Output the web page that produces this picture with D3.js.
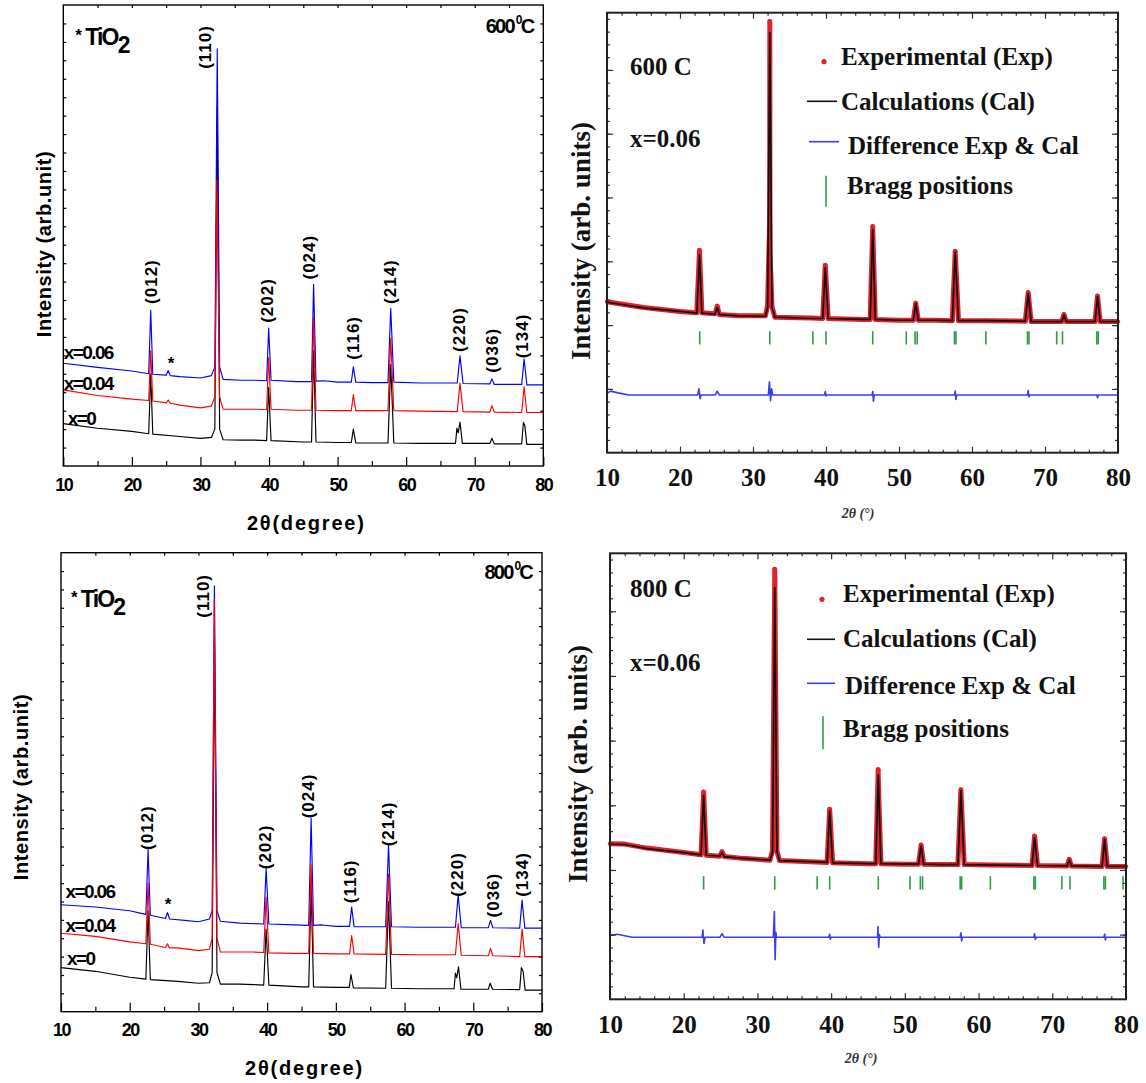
<!DOCTYPE html>
<html><head><meta charset="utf-8">
<script src="https://cdn.jsdelivr.net/npm/d3@7"></script>
<style>body{margin:0;background:#fff}svg{display:block}</style>
</head><body>
<svg id="c" width="1146" height="1083"></svg>
<script>
// ---------------- DATA ----------------
const xTickLabels = [10, 20, 30, 40, 50, 60, 70, 80];
const hklLabels = ["(012)", "(110)", "(202)", "(024)", "(116)", "(214)", "(220)", "(036)", "(134)"];
const seriesNames = ["x=0.06", "x=0.04", "x=0"];
const legendNames = ["Experimental (Exp)", "Calculations (Cal)", "Difference Exp & Cal", "Bragg positions"];

// 600 C, XRD (x=0.06 blue, x=0.04 red, x=0 black); [2theta, intensity (arb.)]
const xrd600_006 = [[10,22.3],[15,21.4],[20,20.6],[22.45,20.0],[22.75,33.8],[23.05,19.9],[25.0,19.7],[25.3,20.7],[25.6,19.6],[27,19.4],[30,19.1],[31.6,19.6],[32.1,21.5],[32.45,90.5],[32.8,21.5],[33.3,18.8],[36,18.6],[38,18.6],[39.65,18.5],[39.95,29.9],[40.3,18.6],[44,18.3],[46.2,18.3],[46.5,39.4],[46.85,18.4],[48,18.5],[50,18.2],[52.0,18.2],[52.3,21.5],[52.65,18.2],[55,18.1],[57.35,18.1],[57.75,34.2],[58.2,18.2],[62,18.0],[67.45,18.0],[67.85,23.9],[68.3,17.9],[72.2,17.8],[72.5,18.9],[72.85,17.7],[76.85,17.7],[77.2,23.2],[77.6,17.6],[80,17.6]];
const xrd600_004 = [[10,16.5],[15,15.3],[20,14.5],[22.45,14.2],[22.75,25.0],[23.05,14.1],[25.0,13.7],[25.3,14.3],[25.6,13.6],[27,13.2],[30,12.6],[31.6,13.0],[32.1,15.0],[32.4,62.0],[32.8,15.0],[33.3,12.3],[38,12.3],[39.65,12.2],[39.95,23.5],[40.3,12.3],[44,12.1],[46.2,12.1],[46.5,32.2],[46.85,12.1],[50,12.0],[52.0,12.0],[52.3,15.5],[52.65,12.0],[57.35,12.0],[57.75,27.7],[58.2,12.0],[62,11.9],[67.45,11.8],[67.85,18.0],[68.3,11.8],[72.2,11.7],[72.5,13.1],[72.85,11.7],[76.85,11.6],[77.2,17.2],[77.6,11.6],[80,11.6]];
const xrd600_000 = [[10,9.2],[15,8.2],[20,7.5],[22.45,7.0],[22.75,20.0],[23.05,6.9],[27,6.4],[30,6.0],[31.6,6.2],[32.1,8.0],[32.45,78.0],[32.8,8.0],[33.3,5.7],[36,5.6],[38,5.6],[39.65,5.5],[39.95,17.0],[40.3,5.5],[45,5.2],[46.2,5.2],[46.5,25.0],[46.85,5.2],[50,5.1],[52.0,5.1],[52.3,8.0],[52.65,5.0],[57.35,5.0],[57.75,22.0],[58.2,5.0],[62,4.9],[67.2,4.9],[67.4,8.2],[67.6,7.2],[67.85,9.5],[68.2,4.9],[72.2,4.9],[72.5,6.0],[72.85,4.8],[76.85,4.8],[77.1,9.5],[77.3,8.8],[77.6,4.7],[80,4.7]];

// 800 C, XRD
const xrd800_006 = [[10,23.3],[15,22.8],[20,22.0],[22.35,21.2],[22.67,35.3],[23.0,21.0],[25.2,20.3],[25.5,21.6],[25.8,20.2],[28,19.9],[30,19.6],[31.6,20.2],[32.0,22.0],[32.33,92.8],[32.7,22.0],[33.2,19.7],[36,19.3],[39.5,19.1],[39.85,31.2],[40.25,19.1],[44,18.9],[46.05,18.8],[46.4,42.2],[46.75,18.8],[48,18.9],[50,18.6],[52.0,18.6],[52.3,22.8],[52.65,18.5],[57.25,18.5],[57.66,36.3],[58.1,18.5],[62,18.4],[67.4,18.4],[67.8,25.4],[68.25,18.3],[72.2,18.3],[72.5,19.9],[72.85,18.3],[76.75,18.2],[77.1,24.3],[77.5,18.2],[80,18.2]];
const xrd800_004 = [[10,17.1],[15,16.4],[20,15.2],[22.35,14.8],[22.67,28.0],[23.0,14.7],[25.2,14.0],[25.5,14.8],[25.8,13.9],[27,13.9],[30,13.3],[31.6,13.6],[32.0,16.0],[32.3,90.0],[32.7,16.0],[33.2,13.0],[38,13.0],[39.5,12.9],[39.85,25.0],[40.25,12.8],[44,12.7],[46.05,12.7],[46.4,32.0],[46.75,12.7],[50,12.6],[52.0,12.6],[52.3,16.6],[52.65,12.6],[57.25,12.5],[57.66,30.0],[58.1,12.5],[62,12.4],[67.4,12.4],[67.8,19.2],[68.25,12.3],[72.2,12.2],[72.5,13.8],[72.85,12.2],[76.75,12.0],[77.1,18.0],[77.5,12.0],[80,12.0]];
const xrd800_000 = [[10,9.6],[15,8.8],[20,7.5],[22.35,7.1],[22.67,22.0],[23.0,7.0],[27,6.6],[30,6.2],[31.6,6.3],[32.0,8.5],[32.33,82.0],[32.7,8.5],[33.2,6.0],[36,6.0],[38,5.9],[39.5,5.8],[39.85,18.0],[40.25,5.8],[45,5.4],[46.05,5.4],[46.4,27.0],[46.75,5.4],[50,5.3],[51.95,5.3],[52.2,8.1],[52.55,5.2],[57.25,5.1],[57.66,24.0],[58.1,5.1],[62,5.0],[67.2,5.0],[67.4,8.4],[67.6,7.4],[67.85,9.8],[68.2,4.9],[72.2,4.9],[72.45,6.2],[72.8,4.9],[76.75,4.8],[77.0,9.6],[77.25,8.8],[77.55,4.7],[80,4.7]];

// Rietveld 600 C, x=0.06
const calc600 = [[10,34.2],[15,32.9],[20,32.1],[22.3,31.7],[22.67,45.0],[23.0,31.7],[24.8,31.5],[25.1,33.0],[25.4,31.4],[28,31.1],[31.7,31.0],[32.0,33.0],[32.3,95.5],[32.6,33.0],[33.0,30.8],[38,30.5],[39.55,30.5],[39.9,42.0],[40.3,30.5],[45,30.3],[46.05,30.3],[46.4,50.7],[46.75,30.3],[50,30.1],[51.95,30.1],[52.3,33.9],[52.65,30.1],[55,30.1],[57.3,30.0],[57.7,45.6],[58.15,30.0],[62,30.0],[67.3,29.9],[67.7,36.2],[68.1,29.8],[72.3,29.8],[72.6,31.3],[72.9,29.8],[76.85,29.8],[77.2,35.5],[77.55,29.8],[80,29.8]];
const exp600 = [[10,34.3],[15,33.0],[20,32.1],[22.3,31.8],[22.67,46.0],[23.0,31.8],[24.8,31.6],[25.1,33.3],[25.4,31.4],[28,31.1],[31.7,31.1],[32.0,33.5],[32.28,52.4],[32.3,98.0],[32.32,45.8],[32.6,33.2],[33.0,30.8],[38,30.6],[39.55,30.5],[39.9,42.6],[40.3,30.5],[45,30.3],[46.05,30.3],[46.4,51.4],[46.75,30.3],[50,30.1],[51.95,30.1],[52.3,34.0],[52.65,30.1],[55,30.1],[57.3,30.0],[57.7,45.8],[58.15,30.0],[62,30.0],[67.3,29.9],[67.7,36.4],[68.1,29.8],[72.3,29.8],[72.6,31.4],[72.9,29.8],[76.85,29.8],[77.2,35.6],[77.55,29.8],[80,29.8]];
const diff600 = [[10,13.5],[10.5,14.0],[11.5,13.6],[13,13.1],[22.4,13.1],[22.6,14.5],[22.75,12.3],[22.9,13.1],[24.8,13.1],[25.1,14.0],[25.4,13.1],[32.1,13.1],[32.25,16.1],[32.4,11.8],[32.55,14.5],[32.7,13.1],[39.8,13.1],[39.9,13.9],[40.0,12.9],[40.1,13.1],[46.3,13.1],[46.4,13.9],[46.5,11.7],[46.6,13.1],[57.6,13.1],[57.7,14.0],[57.8,12.1],[57.9,13.1],[67.6,13.1],[67.7,14.1],[67.8,12.7],[67.9,13.1],[77.1,13.1],[77.2,12.5],[77.3,13.1],[80,13.1]];
const bragg600 = [22.7, 32.3, 38.2, 40.0, 46.4, 51.0, 52.2, 52.5, 57.6, 57.8, 61.9, 67.6, 67.8, 71.6, 72.4, 77.1, 77.3];

// Rietveld 800 C, x=0.06
const calc800 = [[10,34.8],[12,34.7],[15,33.8],[20,32.9],[22.35,32.4],[22.7,45.7],[23.05,32.3],[24.9,32.1],[25.2,32.9],[25.5,32.0],[28,31.6],[31.7,31.2],[32.05,33.0],[32.35,92.3],[32.65,33.0],[33.0,31.1],[38,30.8],[39.45,30.7],[39.8,42.2],[40.2,30.6],[45,30.4],[46.05,30.4],[46.4,50.3],[46.75,30.4],[50,30.3],[51.85,30.3],[52.2,34.4],[52.55,30.3],[55,30.2],[57.2,30.2],[57.6,46.8],[58.05,30.2],[62,30.1],[67.25,30.0],[67.6,36.2],[68.0,30.0],[72.0,29.9],[72.3,31.3],[72.6,29.9],[76.75,29.8],[77.1,35.8],[77.45,29.8],[80,29.8]];
const exp800 = [[10,34.9],[12,34.8],[15,33.9],[20,32.9],[22.35,32.4],[22.7,46.5],[23.05,32.3],[24.9,32.1],[25.2,33.1],[25.5,32.0],[28,31.6],[31.7,31.2],[32.05,33.4],[32.35,96.4],[32.65,33.2],[33.0,31.1],[38,30.8],[39.45,30.7],[39.8,42.6],[40.2,30.6],[45,30.4],[46.05,30.4],[46.38,51.5],[46.4,49.0],[46.75,30.4],[50,30.3],[51.85,30.3],[52.2,34.6],[52.55,30.3],[55,30.2],[57.2,30.2],[57.6,47.0],[58.05,30.2],[62,30.1],[67.25,30.0],[67.6,36.6],[68.0,30.0],[72.0,29.9],[72.3,31.4],[72.6,29.9],[76.75,29.8],[77.1,36.0],[77.45,29.8],[80,29.8]];
const diff800 = [[10,14.3],[11,14.6],[13,13.9],[22.5,13.9],[22.6,15.5],[22.75,12.5],[22.9,13.9],[24.9,13.9],[25.2,14.7],[25.5,13.9],[32.15,13.9],[32.3,19.7],[32.4,8.9],[32.5,15.0],[32.6,13.9],[39.7,13.9],[39.8,14.6],[39.9,13.5],[40.0,13.9],[46.3,13.9],[46.35,16.3],[46.45,11.6],[46.55,14.5],[46.65,13.9],[57.5,13.9],[57.6,14.9],[57.7,13.1],[57.8,13.9],[67.5,13.9],[67.6,14.7],[67.7,13.4],[67.8,13.9],[77.0,13.9],[77.1,14.6],[77.2,13.3],[77.3,13.9],[80,13.9]];
const bragg800 = [22.7, 32.35, 38.1, 39.8, 46.4, 50.7, 52.1, 52.4, 57.5, 57.7, 61.6, 67.5, 67.7, 71.3, 72.4, 77.0, 77.2, 79.6];

// annotation anchors (2theta, intensity) for hkl labels and TiO2 star
const hkl600At = [[22.85,40.0],[30.8,90.9],[39.8,35.9],[45.9,45.3],[52.3,27.8],[57.75,40.0],[67.8,29.6],[72.6,25.1],[76.9,28.2]];
const hkl800At = [[22.62,40.1],[30.76,90.6],[39.76,35.9],[45.99,47.0],[52.2,28.4],[57.67,40.9],[67.69,29.9],[73.0,25.4],[77.09,29.9]];
const star600At = [25.7, 22.4];
const star800At = [25.57, 23.5];

// ---------------- DRAWING ----------------
const svg = d3.select("#c");
const SANS = "'Liberation Sans', Arial, sans-serif";
const SERIF = "'Liberation Serif', 'Times New Roman', serif";

function ticks(g, axis) {
  g.call(axis).call(s => s.select(".domain").remove());
  return g;
}

function leftPanel(p) {
  const x = d3.scaleLinear().domain([10, 80]).range([p.l, p.r]);
  const y = d3.scaleLinear().domain([0, 100]).range([p.b, p.t]);
  const g = svg.append("g");
  const line = d3.line().x(d => x(d[0])).y(d => y(d[1]));
  const curves = [[p.s000, "#000000"], [p.s006, "#0000ff"], [p.s004, "#ff0000"]];
  curves.forEach(([data, col]) => {
    g.append("path").datum(data).attr("d", line).attr("fill", "none")
      .attr("stroke", col).attr("stroke-width", 1.15).attr("stroke-linejoin", "round");
  });
  // axes
  const minorX = d3.range(15, 80, 10);
  const bAx = g.append("g").attr("transform", `translate(0,${p.b})`);
  ticks(bAx.append("g"), d3.axisBottom(x).tickValues(minorX).tickSize(-5).tickFormat(""));
  const maj = ticks(bAx.append("g"), d3.axisBottom(x).tickValues(xTickLabels).tickSize(-9).tickPadding(12).tickFormat(d3.format("d")));
  maj.selectAll("text").attr("font-family", SANS).attr("font-weight", "bold").attr("font-size", 18)
    .attr("letter-spacing", "-1.5px").attr("fill", "#000");
  const tAx = g.append("g").attr("transform", `translate(0,${p.t})`);
  ticks(tAx, d3.axisTop(x).tickValues(d3.range(15, 80, 5)).tickSize(-3).tickFormat(""));
  const yt = d3.range(4, 100, 4);
  ticks(g.append("g").attr("transform", `translate(${p.l},0)`), d3.axisLeft(y).tickValues(yt).tickSize(-3).tickFormat(""));
  ticks(g.append("g").attr("transform", `translate(${p.r},0)`), d3.axisRight(y).tickValues(yt).tickSize(-3).tickFormat(""));
  g.selectAll(".tick line").attr("stroke", "#000").attr("stroke-width", 1.2);
  g.append("rect").attr("x", p.l).attr("y", p.t).attr("width", p.r - p.l).attr("height", p.b - p.t)
    .attr("fill", "none").attr("stroke", "#000").attr("stroke-width", 1.4);

  // hkl labels
  hklLabels.forEach((t, i) => {
    const [hx, hy] = p.hkl[i];
    g.append("text").attr("transform", `translate(${x(hx)},${y(hy)}) rotate(-90)`)
      .attr("text-anchor", "middle").attr("dominant-baseline", "central")
      .attr("font-family", SANS).attr("font-weight", "bold").attr("font-size", 17)
      .attr("letter-spacing", "1px").text(t);
  });
  g.append("text").attr("x", x(p.star[0])).attr("y", y(p.star[1]) + 6).attr("text-anchor", "middle")
    .attr("font-family", SANS).attr("font-weight", "bold").attr("font-size", 17).text("*");
  // series names
  p.names.forEach((n, i) => {
    g.append("text").attr("x", p.l + p.nameAt[i][0]).attr("y", p.t + p.nameAt[i][1])
      .attr("dominant-baseline", "central").attr("font-family", SANS).attr("font-weight", "bold")
      .attr("font-size", 19).attr("letter-spacing", "-1.6px").text(n);
  });
  // * TiO2
  const ti = g.append("text").attr("x", p.l + p.tio[0]).attr("y", p.t + p.tio[1])
    .attr("font-family", SANS).attr("font-weight", "bold").attr("letter-spacing", "-1.8px");
  ti.append("tspan").attr("font-size", 17).attr("dy", -4).text("*");
  ti.append("tspan").attr("font-size", 23).attr("dx", 5).attr("dy", 4).text("TiO");
  ti.append("tspan").attr("font-size", 23).attr("dy", 8).text("2");
  // temperature
  const tt = g.append("text").attr("x", p.r - 10).attr("y", p.t + p.temp).attr("text-anchor", "end")
    .attr("font-family", SANS).attr("font-weight", "bold").attr("letter-spacing", "-1.8px");
  tt.append("tspan").attr("font-size", 20).text(p.tempText);
  tt.append("tspan").attr("font-size", 12).attr("dy", -9).attr("dx", 2).text("0");
  tt.append("tspan").attr("font-size", 20).attr("dy", 9).text("C");
  // axis titles
  g.append("text").attr("transform", `translate(${p.yLab[0]},${p.yLab[1]}) rotate(-90)`)
    .attr("text-anchor", "middle").attr("dominant-baseline", "central")
    .attr("font-family", SANS).attr("font-weight", "bold").attr("font-size", 20).attr("letter-spacing", "0.6px")
    .text("Intensity (arb.unit)");
  g.append("text").attr("x", (p.l + p.r) / 2 + 3).attr("y", p.xLab).attr("text-anchor", "middle")
    .attr("dominant-baseline", "central")
    .attr("font-family", SANS).attr("font-weight", "bold").attr("font-size", 20).attr("letter-spacing", "1.8px")
    .text("2θ(degree)");
}

function rightPanel(p) {
  const x = d3.scaleLinear().domain([10, 80]).range([p.l, p.r]);
  const y = d3.scaleLinear().domain([0, 100]).range([p.b, p.t]);
  const g = svg.append("g");
  const line = d3.line().x(d => x(d[0])).y(d => y(d[1]));
  // bragg ticks
  g.selectAll(".bragg").data(p.bragg).enter().append("line")
    .attr("x1", d => x(d)).attr("x2", d => x(d)).attr("y1", y(27.6)).attr("y2", y(24.6))
    .attr("stroke", "#2f9a48").attr("stroke-width", 1.6);
  // difference
  g.append("path").datum(p.diff).attr("d", line).attr("fill", "none").attr("stroke", "#3c3cf0")
    .attr("stroke-width", 1.6).attr("stroke-linejoin", "round");
  // experimental
  g.append("path").datum(p.exp).attr("d", line).attr("fill", "none").attr("stroke", "#e3202c")
    .attr("stroke-width", 5).attr("stroke-linejoin", "round");
  g.selectAll(".expdot").data(p.exp).enter().append("circle")
    .attr("cx", d => x(d[0])).attr("cy", d => y(d[1])).attr("r", 2.2).attr("fill", "#e3202c");
  // calculated
  g.append("path").datum(p.calc).attr("d", line).attr("fill", "none").attr("stroke", "#111")
    .attr("stroke-width", 1.7).attr("stroke-linejoin", "round");

  // axes
  const bAx = g.append("g").attr("transform", `translate(0,${p.b})`);
  ticks(bAx.append("g"), d3.axisBottom(x).tickValues(d3.range(12, 80, 2).filter(v => v % 10)).tickSize(-3).tickFormat(""));
  const maj = ticks(bAx.append("g"), d3.axisBottom(x).tickValues(xTickLabels).tickSize(-6).tickPadding(16).tickFormat(d3.format("d")));
  maj.selectAll("text").attr("font-family", SERIF).attr("font-weight", "bold").attr("font-size", 25).attr("fill", "#111");
  const tAx = g.append("g").attr("transform", `translate(0,${p.t})`);
  ticks(tAx.append("g"), d3.axisTop(x).tickValues(d3.range(12, 80, 2).filter(v => v % 10)).tickSize(-3).tickFormat(""));
  ticks(tAx.append("g"), d3.axisTop(x).tickValues(xTickLabels).tickSize(-6).tickFormat(""));
  const minorY = d3.range(2.9, 100, 2.9);
  const majorY = d3.range(14.5, 100, 14.5);
  [[p.l, d3.axisLeft], [p.r, d3.axisRight]].forEach(([px, fn]) => {
    const a = g.append("g").attr("transform", `translate(${px},0)`);
    ticks(a.append("g"), fn(y).tickValues(minorY).tickSize(-3).tickFormat(""));
    ticks(a.append("g"), fn(y).tickValues(majorY).tickSize(-6).tickFormat(""));
  });
  g.selectAll(".tick line").attr("stroke", "#333").attr("stroke-width", 1.2);
  g.append("rect").attr("x", p.l).attr("y", p.t).attr("width", p.r - p.l).attr("height", p.b - p.t)
    .attr("fill", "none").attr("stroke", "#222").attr("stroke-width", 2);

  const txt = (xx, yy, s, size) => g.append("text").attr("x", xx).attr("y", yy).attr("dominant-baseline", "central")
    .attr("font-family", SERIF).attr("font-weight", "bold").attr("font-size", size || 25).attr("fill", "#111").text(s);
  txt(p.l + p.temp[0], p.t + p.temp[1], p.tempText);
  txt(p.l + p.comp[0], p.t + p.comp[1], "x=0.06");
  // legend
  const L = p.leg;
  g.append("circle").attr("cx", p.l + L.dot[0]).attr("cy", p.t + L.dot[1]).attr("r", 2.6).attr("fill", "#e3202c");
  txt(p.l + L.t1[0], p.t + L.t1[1], legendNames[0]);
  g.append("line").attr("x1", p.l + L.l2[0]).attr("x2", p.l + L.l2[1]).attr("y1", p.t + L.l2[2]).attr("y2", p.t + L.l2[2])
    .attr("stroke", "#111").attr("stroke-width", 1.6);
  txt(p.l + L.t2[0], p.t + L.t2[1], legendNames[1]);
  g.append("line").attr("x1", p.l + L.l3[0]).attr("x2", p.l + L.l3[1]).attr("y1", p.t + L.l3[2]).attr("y2", p.t + L.l3[2])
    .attr("stroke", "#3c3cf0").attr("stroke-width", 1.6);
  txt(p.l + L.t3[0], p.t + L.t3[1], legendNames[2]);
  g.append("line").attr("x1", p.l + L.l4[0]).attr("x2", p.l + L.l4[0]).attr("y1", p.t + L.l4[1]).attr("y2", p.t + L.l4[2])
    .attr("stroke", "#2f9a48").attr("stroke-width", 1.6);
  txt(p.l + L.t4[0], p.t + L.t4[1], legendNames[3]);
  // axis titles
  g.append("text").attr("transform", `translate(${p.yLab[0]},${p.yLab[1]}) rotate(-90)`)
    .attr("text-anchor", "middle").attr("dominant-baseline", "central")
    .attr("font-family", SERIF).attr("font-weight", "bold").attr("font-size", 27).attr("fill", "#111")
    .text("Intensity (arb. units)");
  g.append("text").attr("x", p.xLab[0]).attr("y", p.xLab[1]).attr("text-anchor", "middle").attr("dominant-baseline", "central")
    .attr("font-family", SERIF).attr("font-style", "italic").attr("font-weight", "bold").attr("font-size", 14).attr("fill", "#333")
    .text("2θ (°)");
}

leftPanel({l: 63.3, r: 543.3, t: 5, b: 466, s006: xrd600_006, s004: xrd600_004, s000: xrd600_000,
  hkl: hkl600At, star: star600At, names: seriesNames, nameAt: [[0.5, 347], [0.5, 378], [4.5, 413]],
  tio: [12, 40], temp: 28, tempText: "600", yLab: [44, 244], xLab: 523});
leftPanel({l: 61, r: 542, t: 552.7, b: 1011.7, s006: xrd800_006, s004: xrd800_004, s000: xrd800_000,
  hkl: hkl800At, star: star800At, names: seriesNames, nameAt: [[4.5, 339], [4.5, 373], [6, 406]],
  tio: [10, 54], temp: 26, tempText: "800", yLab: [21, 787], xLab: 1068});

rightPanel({l: 607, r: 1118, t: 12.7, b: 452.7, calc: calc600, exp: exp600, diff: diff600, bragg: bragg600,
  temp: [23, 54], tempText: "600 C", comp: [23, 126],
  leg: {dot: [217, 49], t1: [234, 44], l2: [200, 230, 88.6], t2: [234, 88.3], l3: [202, 232, 129], t3: [241, 133],
        l4: [219, 163, 194], t4: [240, 173]},
  yLab: [581, 241], xLab: [858, 513]});
rightPanel({l: 610, r: 1126, t: 553.3, b: 999.3, calc: calc800, exp: exp800, diff: diff800, bragg: bragg800,
  temp: [20, 35], tempText: "800 C", comp: [20, 109],
  leg: {dot: [212, 46], t1: [233, 40], l2: [197, 225, 86], t2: [233, 85], l3: [197, 225, 130], t3: [235, 132],
        l4: [213, 163, 196], t4: [233, 175]},
  yLab: [578, 764], xLab: [861, 1058]});
</script>
</body></html>
